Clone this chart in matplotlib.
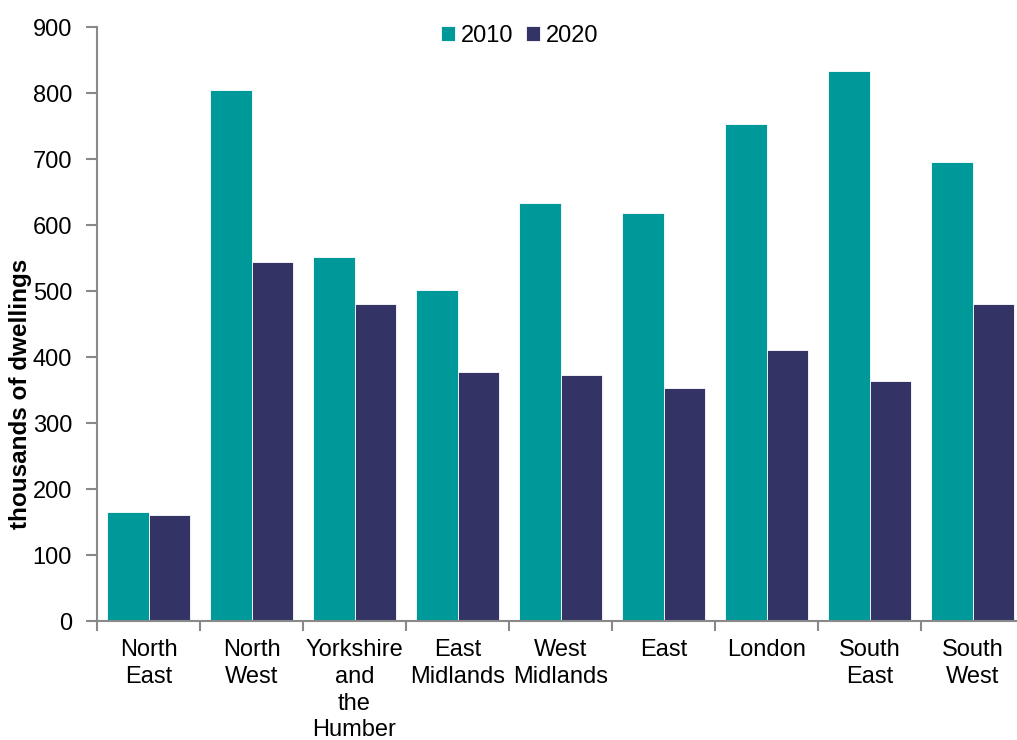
import numpy as np
from matplotlib import pyplot as plt

plt.rcParams['font.family'] = ['Liberation Sans', 'DejaVu Sans']

regions = ['North\nEast', 'North\nWest', 'Yorkshire\nand\nthe\nHumber', 'East\nMidlands',
           'West\nMidlands', 'East', 'London', 'South\nEast', 'South\nWest']
dwell_2010 = [165, 805, 552, 501, 633, 618, 753, 834, 696]
dwell_2020 = [160, 544, 480, 377, 372, 353, 411, 363, 480]
series = ['2010', '2020']
colours = ['#009999', '#333366']
grey = '#898989'

fig = plt.figure(figsize=(10.17, 7.4), dpi=100)
ax = fig.add_axes([0.0954, 0.1608, 0.9115, 0.8027])

x = np.arange(len(regions))
w = 0.4
ax.bar(x - w/2, dwell_2010, w, color=colours[0], edgecolor='white', linewidth=0.6, label=series[0])
ax.bar(x + w/2, dwell_2020, w, color=colours[1], edgecolor='white', linewidth=0.6, label=series[1])

ax.set_xlim(-0.5, len(regions) - 0.5)
ax.set_ylim(0, 900)
ax.set_yticks(np.arange(0, 901, 100))
ax.set_xticks(x)
ax.set_xticklabels(regions, fontsize=17, linespacing=1.28)
ax.set_xticks(np.arange(-0.5, len(regions), 1), minor=True)
ax.tick_params(axis='x', which='major', length=0, pad=13)
ax.tick_params(axis='x', which='minor', length=7, color=grey, width=1.5, direction='out')
ax.tick_params(axis='y', labelsize=17, length=8, color=grey, width=1.5, pad=10)

for s in ['top', 'right']:
    ax.spines[s].set_visible(False)
for s in ['left', 'bottom']:
    ax.spines[s].set_color(grey)
    ax.spines[s].set_linewidth(1.5)

ax.set_ylabel('thousands of dwellings', fontsize=17.5, fontweight='bold')
ax.yaxis.set_label_coords(-0.07, 0.382)

ax.legend(loc='center', bbox_to_anchor=(0.456, 0.985), ncol=2, frameon=False,
          fontsize=17, handlelength=0.6, handleheight=0.6, handletextpad=0.25, columnspacing=0.5)

fig.savefig('out.png', dpi=100)
